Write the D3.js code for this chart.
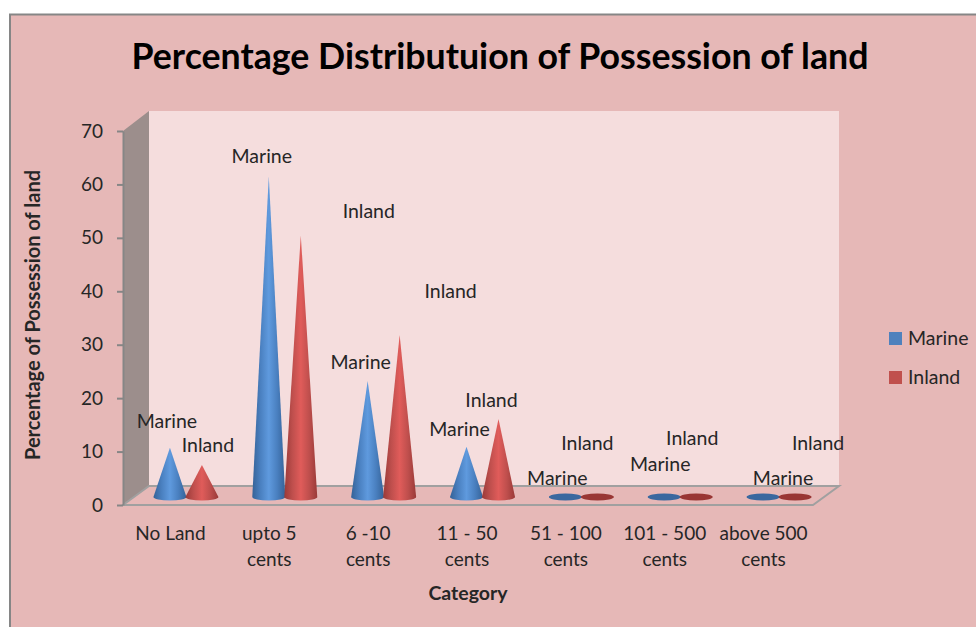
<!DOCTYPE html>
<html>
<head>
<meta charset="utf-8">
<script src="https://cdn.jsdelivr.net/npm/d3@7"></script>
<style>
body { margin: 0; background: #fff; }
text { font-family: Lato, "Open Sans", sans-serif; fill: #262626; }
</style>
</head>
<body>
<svg id="chart" width="976" height="627"></svg>
<script>
var categories = [["No Land"], ["upto 5", "cents"], ["6 -10", "cents"], ["11 - 50", "cents"],
                  ["51 - 100", "cents"], ["101 - 500", "cents"], ["above 500", "cents"]];
var marine = [9.2, 60, 21.7, 9.4, 0, 0, 0];
var inland = [6, 49, 30.3, 14.6, 0, 0, 0];
var yTicks = [0, 10, 20, 30, 40, 50, 60, 70];
var seriesNames = ["Marine", "Inland"];

// where the data labels sit relative to each cone tip
var marineLabelDx = [-3, -7, -7, -7, -8, -4, 20];
var marineLabelDy = [-20, -13, -12, -11, -12, -26, -12];
var inlandLabelDx = [6, 68, 51, -7, -10, -4, 23];
var inlandLabelDy = [-13, -17, -37, -12, -47, -52, -47];

var svg = d3.select("#chart");

var plot = {left: 123, right: 813, top: 131, bottom: 505, depthX: 26, depthY: 19};
var coneLift = 8, coneR = 16.5, coneRy = 3.5;

var y = d3.scaleLinear().domain([0, 70]).range([plot.bottom, plot.top]);
var x = d3.scaleBand().domain(d3.range(categories.length)).range([plot.left - 1, plot.right + 1]);
var s = d3.scaleBand().domain([0, 1]).range([-32, 32]);

// Colors
var defs = svg.append("defs");
function coneGradient(id, edge, inner, mid) {
  var g = defs.append("linearGradient").attr("id", id);
  g.append("stop").attr("offset", "0%").attr("stop-color", edge);
  g.append("stop").attr("offset", "25%").attr("stop-color", inner);
  g.append("stop").attr("offset", "50%").attr("stop-color", mid);
  g.append("stop").attr("offset", "75%").attr("stop-color", inner);
  g.append("stop").attr("offset", "100%").attr("stop-color", edge);
}
coneGradient("grad0", "#356297", "#4a80c0", "#5f9ade");
coneGradient("grad1", "#9a3a38", "#bf4f4d", "#e05c5a");
var flat = ["#3a689f", "#993634"];
var legendColor = ["#4f81bd", "#c0504d"];

// chart area
svg.append("rect").attr("x", 10).attr("y", 14.5).attr("width", 975).attr("height", 640)
    .attr("fill", "#e6b8b7").attr("stroke", "#868686").attr("stroke-width", 2);

// back wall, side wall, floor
svg.append("rect")
    .attr("x", plot.left + plot.depthX).attr("y", plot.top - plot.depthY - 1)
    .attr("width", plot.right - plot.left).attr("height", plot.bottom - plot.top + 1)
    .attr("fill", "#f5dddd");
svg.append("path")
    .attr("d", d3.line()([[plot.left, plot.top], [plot.left + plot.depthX, plot.top - plot.depthY - 1],
                          [plot.left + plot.depthX, plot.bottom - plot.depthY], [plot.left, plot.bottom]]))
    .attr("fill", "#9c8e8c");
svg.append("path")
    .attr("d", d3.line()([[plot.left, plot.bottom], [plot.left + plot.depthX, plot.bottom - plot.depthY],
                          [plot.right + plot.depthX, plot.bottom - plot.depthY], [plot.right, plot.bottom]]) + "Z")
    .attr("fill", "#e6b8b7").attr("stroke", "#a0a0a0").attr("stroke-width", 2);

// axis
var yAxis = svg.append("g")
    .attr("transform", "translate(" + plot.left + ",0)")
    .call(d3.axisLeft(y).tickValues(yTicks).tickSize(6).tickPadding(14).tickSizeOuter(0));
yAxis.selectAll("path, line").attr("stroke", "#868686").attr("stroke-width", 2);
yAxis.selectAll("text").style("font-family", "Lato").style("font-size", "19px").attr("fill", "#262626");

// cones
function conePath(cx, tip) {
  var base = plot.bottom - coneLift;
  return "M" + (cx - coneR) + "," + base + "L" + cx + "," + tip + "L" + (cx + coneR) + "," + base +
    "A" + coneR + "," + coneRy + " 0 0 1 " + (cx - coneR) + "," + base + "Z";
}
function tipOf(v) { return y(v) - coneLift; }
function cx(i, k) { return x(i) + x.bandwidth() / 2 + 14.5 + s(k) + s.bandwidth() / 2; }

[marine, inland].forEach(function(values, k) {
  var g = svg.append("g");
  values.forEach(function(v, i) {
    if (v > 0) {
      g.append("path").attr("d", conePath(cx(i, k), tipOf(v))).attr("fill", "url(#grad" + k + ")");
    } else {
      g.append("ellipse").attr("cx", cx(i, k)).attr("cy", plot.bottom - coneLift)
          .attr("rx", coneR).attr("ry", coneRy).attr("fill", flat[k]);
    }
  });
});

// data labels
function dataLabels(values, k, dx, dy) {
  svg.append("g").selectAll("text")
    .data(values)
    .enter().append("text")
      .attr("x", function(d, i) { return cx(i, k) + dx[i]; })
      .attr("y", function(d, i) { return tipOf(d) + dy[i]; })
      .attr("text-anchor", "middle")
      .attr("font-size", 19.5)
      .text(seriesNames[k]);
}
dataLabels(marine, 0, marineLabelDx, marineLabelDy);
dataLabels(inland, 1, inlandLabelDx, inlandLabelDy);

// category labels
var cat = svg.append("g").selectAll("text")
    .data(categories)
    .enter().append("text")
      .attr("text-anchor", "middle")
      .attr("font-size", 19)
      .attr("transform", function(d, i) { return "translate(" + (x(i) + x.bandwidth() / 2 - 1) + ",540)"; });
cat.selectAll("tspan")
    .data(function(d) { return d; })
    .enter().append("tspan")
      .attr("x", 0)
      .attr("y", function(d, i) { return i * 26; })
      .text(function(d) { return d; });

// titles
svg.append("text").attr("x", 500).attr("y", 69).attr("text-anchor", "middle")
    .attr("font-size", 35.7).attr("font-weight", "bold").style("fill", "#000")
    .text("Percentage Distributuion of Possession of land");
svg.append("text").attr("x", 468).attr("y", 600).attr("text-anchor", "middle")
    .attr("font-size", 19.5).attr("font-weight", "bold")
    .text("Category");
svg.append("text").attr("transform", "translate(40,315) rotate(-90)").attr("text-anchor", "middle")
    .attr("font-size", 20).attr("font-weight", "bold")
    .text("Percentage of Possession of land");

// legend
var legend = svg.append("g").selectAll("g")
    .data(seriesNames)
    .enter().append("g")
      .attr("transform", function(d, i) { return "translate(889," + (332 + i * 39) + ")"; });
legend.append("rect").attr("width", 13).attr("height", 13)
    .attr("fill", function(d, i) { return legendColor[i]; });
legend.append("text").attr("x", 19).attr("y", 12.5).attr("font-size", 19.5)
    .text(function(d) { return d; });
</script>
</body>
</html>
